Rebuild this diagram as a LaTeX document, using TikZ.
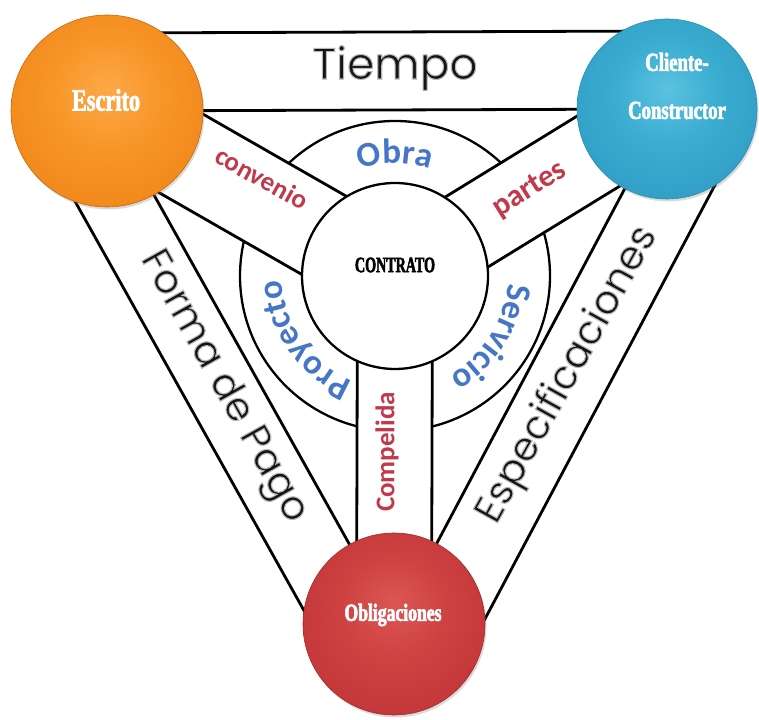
\documentclass[tikz,border=0pt]{standalone}
\usepackage{fontspec}
\usetikzlibrary{calc,decorations.text,shadows}

\newfontfamily\circlefont[FakeStretch=0.72,FakeBold=2.5]{Liberation Serif Bold}
\newfontfamily\centerfont[FakeStretch=0.64,FakeBold=2.2]{Liberation Serif Bold}
\newfontfamily\wordfont{Carlito}
\newfontfamily\bandfont{Poppins}

\definecolor{ringblue}{HTML}{4677C6}
\definecolor{spokered}{HTML}{C03A4C}
\definecolor{bandgray}{gray}{0.08}
\definecolor{orangerim}{HTML}{C56A12}
\definecolor{bluerim}{HTML}{2A8CAE}
\definecolor{redrim}{HTML}{A22A2C}

% ball shadings (TikZ maps the central 50bp square onto the circle)
\pgfdeclareradialshading{orangeball}{\pgfpoint{0bp}{6bp}}{%
  rgb(0bp)=(0.99,0.66,0.28); rgb(14bp)=(0.97,0.59,0.16);
  rgb(27bp)=(0.95,0.54,0.11); rgb(31bp)=(0.80,0.43,0.07); rgb(50bp)=(0.80,0.43,0.07)}
\pgfdeclareradialshading{blueball}{\pgfpoint{0bp}{6bp}}{%
  rgb(0bp)=(0.36,0.76,0.88); rgb(14bp)=(0.23,0.68,0.82);
  rgb(27bp)=(0.20,0.63,0.78); rgb(31bp)=(0.14,0.52,0.66); rgb(50bp)=(0.14,0.52,0.66)}
\pgfdeclareradialshading{redball}{\pgfpoint{0bp}{6bp}}{%
  rgb(0bp)=(0.86,0.34,0.33); rgb(14bp)=(0.81,0.26,0.26);
  rgb(27bp)=(0.77,0.22,0.23); rgb(31bp)=(0.63,0.16,0.17); rgb(50bp)=(0.63,0.16,0.17)}

% dark letters with a light grey halo
\newcommand\glowtext[1]{\special{pdf:literal direct 2 Tr 1.1 w 0.72 G}#1\special{pdf:literal direct 0 Tr 0 G}}

\tikzset{
  bandline/.style={line width=2.8pt},
  ringline/.style={line width=2.3pt},
  ball/.style={circle, inner sep=0pt, line width=0.6pt,
    drop shadow={opacity=0.28, shadow xshift=1.5pt, shadow yshift=-2.5pt}},
  balltext/.style={text=white, inner sep=0pt, align=center},
  bandtext/.style={text=bandgray, inner sep=0pt, font=\bandfont\fontsize{40}{40}\selectfont},
  spoketext/.style={text=spokered, inner sep=0pt},
  ringword/.style={decorate, decoration={text along path, text align=center,
    text={|\wordfont\bfseries\fontsize{35}{35}\selectfont\color{ringblue}|#1}}}
}

\begin{document}
\begin{tikzpicture}[x=1pt,y=1pt]
\useasboundingbox (0,0) rectangle (759,719);
\fill[white] (0,0) rectangle (759,719);

% centres of the four circles
\coordinate (cE) at (107,608);
\coordinate (cC) at (667,610);
\coordinate (cO) at (394,95);
\coordinate (cM) at (395,443);

% ring around the contract
\draw[ringline] (cM) circle[radius=155];

% spokes from the outer circles to the contract
\coordinate (cv1) at ($(cE)!45pt!90:(cM)$);
\coordinate (cv2) at ($(cM)!45pt!-90:(cE)$);
\coordinate (cv3) at ($(cM)!45pt!90:(cE)$);
\coordinate (cv4) at ($(cE)!45pt!-90:(cM)$);
\fill[white] (cv1) -- (cv2) -- (cv3) -- (cv4) -- cycle;
\draw[bandline] (cv1) -- (cv2);
\draw[bandline] (cv4) -- (cv3);

\coordinate (pt1) at ($(cC)!41pt!90:(cM)$);
\coordinate (pt2) at ($(cM)!41pt!-90:(cC)$);
\coordinate (pt3) at ($(cM)!41pt!90:(cC)$);
\coordinate (pt4) at ($(cC)!41pt!-90:(cM)$);
\fill[white] (pt1) -- (pt2) -- (pt3) -- (pt4) -- cycle;
\draw[bandline] (pt1) -- (pt2);
\draw[bandline] (pt4) -- (pt3);

\coordinate (cp1) at ($(cO)!37.5pt!90:(cM)$);
\coordinate (cp2) at ($(cM)!37.5pt!-90:(cO)$);
\coordinate (cp3) at ($(cM)!37.5pt!90:(cO)$);
\coordinate (cp4) at ($(cO)!37.5pt!-90:(cM)$);
\fill[white] (cp1) -- (cp2) -- (cp3) -- (cp4) -- cycle;
\draw[bandline] (cp1) -- (cp2);
\draw[bandline] (cp4) -- (cp3);

% outer bands of the triangle
\draw[bandline] (cE) -- (cC);
\draw[bandline] ($(cE)!78pt!90:(cC)$) -- ($(cC)!78pt!-90:(cE)$);
\draw[bandline] (cE) -- (cO);
\draw[bandline] ($(cE)!72pt!-90:(cO)$) -- ($(cO)!72pt!90:(cE)$);
\draw[bandline] (cC) -- (cO);
\draw[bandline] ($(cC)!78pt!90:(cO)$) -- ($(cO)!78pt!-90:(cC)$);

% contract circle
\node[circle, draw, ringline, fill=white, minimum size=186pt, inner sep=0pt] (M) at (cM) {};
\node[inner sep=0pt, font=\centerfont\fontsize{22}{22}\selectfont] (Mt) at (395,454) {CONTRATO};

% words on the ring
\path[ringword=Obra] ($(cM)+(130:113)$) arc[start angle=130, end angle=50, radius=113];
\path[ringword=Proyecto] ($(cM)+(260:113)$) arc[start angle=260, end angle=170, radius=113];
\path[ringword=Servicio] ($(cM)+(12:113)$) arc[start angle=12, end angle=-77, radius=113];

% words on the spokes
\node[spoketext, font=\wordfont\bfseries\fontsize{27}{27}\selectfont, rotate=-29] (tcv) at (262,541) {convenio};
\node[spoketext, font=\wordfont\bfseries\fontsize{31}{31}\selectfont, rotate=32] (tpt) at (530,529) {partes};
\node[spoketext, font=\wordfont\bfseries\fontsize{27}{27}\selectfont, rotate=90] (tcp) at (387,267) {Compelida};

% words on the outer bands
\node[bandtext, font=\bandfont\fontsize{44}{44}\selectfont] (tT) at (395,651) {\glowtext{Tiempo}};
\node[bandtext, rotate=-60.8] (tF) at (223,332) {\glowtext{Forma de Pago}};
\node[bandtext, rotate=61] (tS) at (568,344) {\glowtext{Especificaciones}};

% corner circles
\node[ball, shading=orangeball, draw=orangerim, minimum size=192pt] (E) at (cE) {};
\node[ball, shading=blueball, draw=bluerim, minimum size=180pt] (C) at (cC) {};
\node[ball, shading=redball, draw=redrim, minimum size=182pt] (O) at (cO) {};

\node[balltext, font=\circlefont\fontsize{31}{31}\selectfont] (Et) at (106,619) {Escrito};
\node[balltext, font=\circlefont\fontsize{26}{48}\selectfont] (Ct) at (677,633) {Cliente-\\Constructor};
\node[balltext, font=\circlefont\fontsize{24.5}{24.5}\selectfont] (Ot) at (393,104) {Obligaciones};
\end{tikzpicture}
\end{document}
